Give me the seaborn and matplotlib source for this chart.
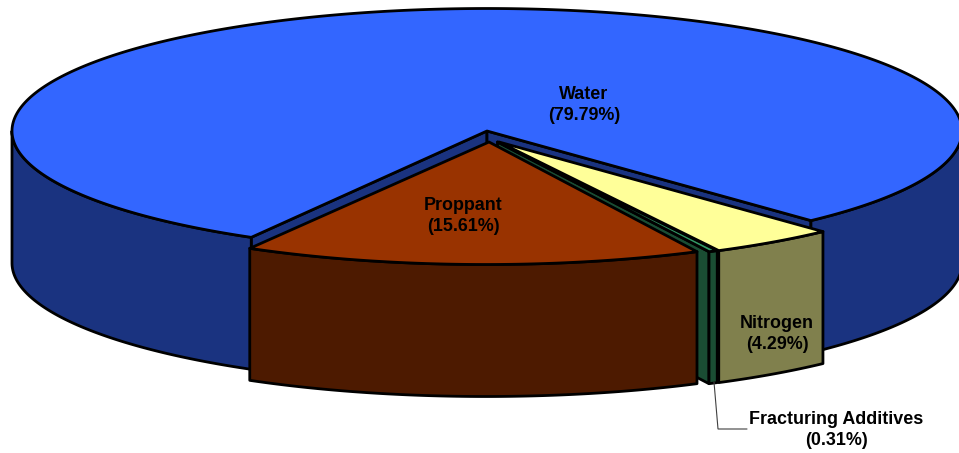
import numpy as np
import matplotlib
matplotlib.use("Agg")
import matplotlib.pyplot as plt
import seaborn as sns

# Data
categories = ["Water", "Nitrogen", "Fracturing Additives", "Proppant"]
shares = [79.79, 4.29, 0.31, 15.61]
label_texts = ["Water\n(79.79%)", "Nitrogen\n(4.29%)", "Fracturing Additives\n(0.31%)", "Proppant\n(15.61%)"]

# Styles
top_colors = ["#3366FF", "#FFFF99", "#339966", "#993300"]
side_colors = ["#1A3380", "#80804D", "#1A4D33", "#4D1A00"]

# Projection of the pie (pixels)
CX, CY, RX, RY, DEPTH = 487.0, 131.0, 475.0, 122.5, 132.0
START = 47.0
explode = {"Water": (0, 0), "Nitrogen": (12, 11), "Fracturing Additives": (10.5, 11), "Proppant": (-1.5, 11)}
apex_shift = {"Water": 0, "Nitrogen": 0, "Fracturing Additives": 0, "Proppant": 3.5}
label_pos = [(584, 105), (777, 334), (836.5, 430), (463, 216)]

sns.set_theme(style="white")
plt.rcParams["font.family"] = ["Liberation Sans", "DejaVu Sans"]

fig = plt.figure(figsize=(9.59, 4.53), dpi=100, facecolor="white")
ax = fig.add_axes([0, 0, 1, 1])
ax.set_xlim(0, 959)
ax.set_ylim(453, 0)
ax.axis("off")
sns.despine(ax=ax, left=True, bottom=True)

# Angular spans from the shares: Nitrogen, Additives, Proppant run forward from START
spans = {}
a = START
for name, s in zip(categories[1:], shares[1:]):
    spans[name] = (a, a + s * 3.6)
    a += s * 3.6
spans["Water"] = (a, START + 360.0)


def rim(t_deg, off=(0, 0), dz=0.0):
    t = np.radians(np.atleast_1d(t_deg))
    return CX + off[0] + RX * np.cos(t), CY + off[1] + RY * np.sin(t) + dz


def arc(t0, t1):
    return np.linspace(t0, t1, max(int(abs(t1 - t0) * 3), 4))


LW = 2.0
kw = dict(edgecolor="black", linewidth=LW, joinstyle="round")


def outer_wall(t0, t1, off, color):
    xa, ya = rim(arc(t0, t1), off)
    xb, yb = rim(arc(t1, t0), off, DEPTH)
    ax.fill(np.r_[xa, xb], np.r_[ya, yb], facecolor=color, **kw)


def radial_wall(t, off, color):
    xr, yr = rim(t, off)
    ox, oy = CX + off[0], CY + off[1]
    ax.fill([ox, xr[0], xr[0], ox], [oy, yr[0], yr[0] + DEPTH, oy + DEPTH], facecolor=color, **kw)


def top(t0, t1, off, color, shift=0):
    xa, ya = rim(arc(t0, t1), off)
    ax.fill(np.r_[CX + off[0] + shift, xa], np.r_[CY + off[1], ya], facecolor=color, **kw)


# Water
w0, w1 = spans["Water"]
off = explode["Water"]
radial_wall(w0, off, side_colors[0])
radial_wall(START, off, side_colors[0])
outer_wall(w0, 180, off, side_colors[0])
outer_wall(360, w1, off, side_colors[0])
top(w0, w1, off, top_colors[0])

# Additives, Nitrogen, Proppant, back to front
for idx in [2, 1, 3]:
    name = categories[idx]
    t0, t1 = spans[name]
    off = explode[name]
    if name == "Fracturing Additives":
        radial_wall(t1, off, side_colors[idx])
    outer_wall(t0, t1, off, side_colors[idx])
    top(t0, t1, off, top_colors[idx], apex_shift[name])

# Leader for the additives label
ax.plot([714, 718, 747], [382, 429, 429], color="#404040", lw=0.8, solid_joinstyle="miter")

for txt, (x, y) in zip(label_texts, label_pos):
    ax.text(x, y, txt, ha="center", va="center", fontsize=12.9, fontweight="bold",
            color="black", linespacing=1.37)

fig.savefig("out.png", dpi=100, facecolor="white")
